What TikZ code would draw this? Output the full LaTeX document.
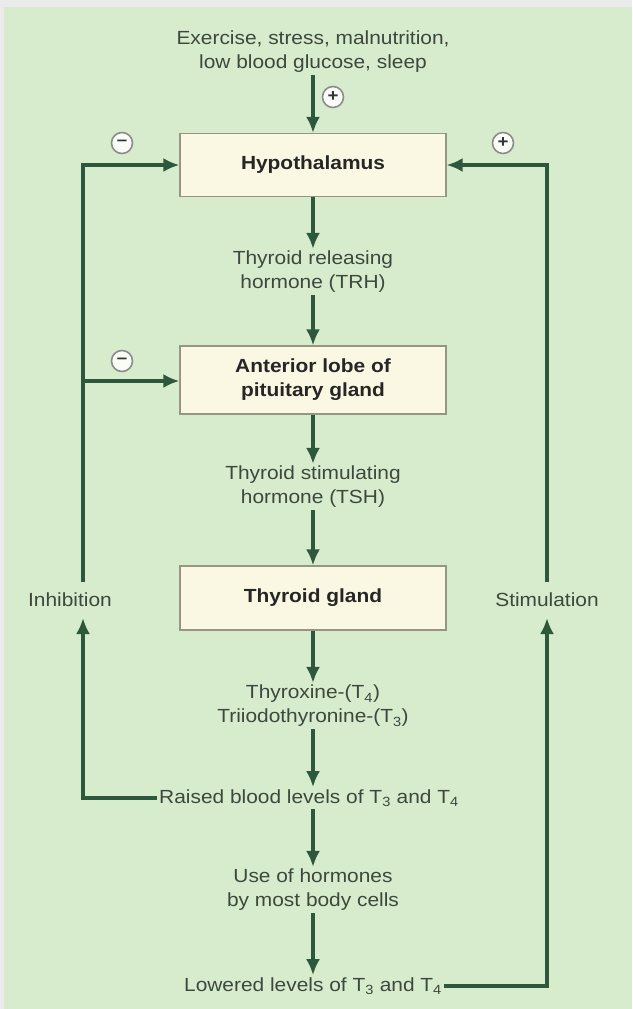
\documentclass[tikz,border=0pt]{standalone}
\usepackage{fontspec}
\setmainfont[FakeStretch=1.1]{Liberation Sans}
\usetikzlibrary{arrows.meta}
\definecolor{bg}{RGB}{214,236,204}
\definecolor{lncol}{RGB}{46,88,60}
\definecolor{tx}{RGB}{62,72,62}
\definecolor{bx}{RGB}{250,248,226}
\definecolor{bxl}{RGB}{150,150,130}
\begin{document}
\begin{tikzpicture}[x=1pt,y=-1pt,
  every node/.style={font=\fontsize{19}{24}\selectfont, text=tx, align=center, inner sep=2pt},
  box/.style={draw=bxl, line width=1.2pt, fill=bx, minimum width=266pt, text=black!85, font=\fontsize{19}{24}\selectfont\bfseries},
  arr/.style={draw=lncol, line width=3.4pt, -{Latex[length=16pt,width=14pt]}},
  sign/.style={circle, draw=black!45, line width=1.6pt, fill=white!85!bg, minimum size=21pt, inner sep=0pt, text=black!80, font=\fontsize{17}{17}\selectfont\bfseries}]
\fill[white!92!black] (0,0) rectangle (632,1009);
\fill[bg] (4,7) rectangle (632,1009);
\useasboundingbox (0,0) rectangle (632,1009);

\node (top) at (313,52) {Exercise, stress, malnutrition,\\low blood glucose, sleep};
\node[box, minimum height=63pt] (hyp) at (313,165) {Hypothalamus};
\node (trh) at (313,272) {Thyroid releasing\\hormone (TRH)};
\node[box, minimum height=68pt, align=center] (ant) at (313,380) {Anterior lobe of\\pituitary gland};
\node (tsh) at (313,487) {Thyroid stimulating\\hormone (TSH)};
\node[box, minimum height=64pt] (thy) at (313,598) {Thyroid gland};
\node (thx) at (313,706) {Thyroxine-(T\textsubscript{4})\\Triiodothyronine-(T\textsubscript{3})};
\node (raised) at (309,798) {Raised blood levels of T\textsubscript{3} and T\textsubscript{4}};
\node (use) at (313,890) {Use of hormones\\by most body cells};
\node (lowered) at (313,986) {Lowered levels of T\textsubscript{3} and T\textsubscript{4}};
\node (inh) at (70,600) {Inhibition};
\node (stim) at (547,600) {Stimulation};

\node[sign] (s1) at (333,97) {+};
\node[sign] (s2) at (122,143) {\raisebox{1pt}{--}};
\node[sign] (s3) at (503,143) {+};
\node[sign] (s4) at (122,361) {\raisebox{1pt}{--}};

\draw[arr] (top) -- (hyp);
\draw[arr] (hyp) -- (trh);
\draw[arr] (trh) -- (ant);
\draw[arr] (ant) -- (tsh);
\draw[arr] (tsh) -- (thy);
\draw[arr] (thy) -- (thx);
\draw[arr] (thx.south) -- (thx.south |- raised.north);
\draw[arr] (thx.south |- raised.south) -- (use.north);
\draw[arr] (use) -- (lowered);

\coordinate (Ltop) at (83,582);
\coordinate (Lmid) at (83,381);
\coordinate (Lbot) at (83,618);
\coordinate (Lcorner) at (83,798);
\coordinate (Rtop) at (547,582);
\coordinate (Rbot) at (547,618);
\coordinate (Rcorner) at (547,986);

\draw[arr] (Ltop) |- (hyp.west);
\draw[arr] (Lmid) -- (Lmid -| ant.west);
\draw[arr] (raised.west) -- (Lcorner) -- (Lbot);
\draw[arr] (Rtop) |- (hyp.east);
\draw[arr] (lowered.east) -- (Rcorner) -- (Rbot);
\end{tikzpicture}
\end{document}
